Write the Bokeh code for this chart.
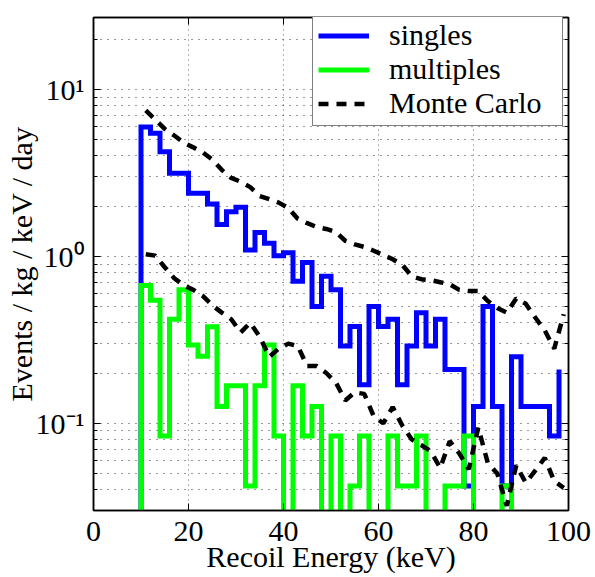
from bokeh.plotting import figure
from bokeh.models import (Range1d, LinearAxis, LogAxis, FixedTicker, Legend, LegendItem,
                          CustomJSTickFormatter, ColumnDataSource)
from bokeh.embed import file_html
from bokeh.resources import INLINE

# ---------------- data ----------------
bin_left = list(range(10, 100, 2))       # left edges of 2 keV bins
bin_center = list(range(11, 100, 2))     # bin centres (Monte Carlo curves)

singles = [5.96, 5.46, 4.24, 3.15, 3.15, 2.39, 2.39, 2.06, 1.55, 1.85,
           1.97, 1.09, 1.39, 1.20, 1.01, 1.05, 0.71, 0.92, 0.50, 0.76,
           0.63, 0.29, 0.38, 0.17, 0.50, 0.38, 0.42, 0.17, 0.29, 0.46,
           0.29, 0.42, 0.21, 0.21, 0.042, 0.126, 0.50, 0.126, 0.042, 0.25,
           0.126, 0.126, 0.126, 0.084, 0.21]

multiples = [0.67, 0.546, 0.084, 0.42, 0.63, 0.294, 0.252, 0.378, 0.126, 0.168,
             0.168, 0.042, 0.168, 0.294, 0.084, 0.0, 0.168, 0.084, 0.126, 0.0,
             0.084, 0.0, 0.042, 0.084, 0.0, 0.0, 0.084, 0.042, 0.042, 0.084,
             0.0, 0.0, 0.042, 0.042, 0.084, 0.0, 0.0, 0.0, 0.042, 0.0,
             0.0, 0.0, 0.0, 0.0, 0.0]

mc_singles = [7.5, 6.6, 5.8, 5.3, 4.8, 4.5, 4.2, 3.8, 3.3, 2.95,
              2.8, 2.6, 2.3, 2.2, 2.1, 1.95, 1.68, 1.58, 1.5, 1.46,
              1.40, 1.24, 1.18, 1.14, 1.08, 1.02, 0.96, 0.89, 0.76, 0.73,
              0.72, 0.70, 0.68, 0.63, 0.62, 0.62, 0.54, 0.49, 0.46, 0.56,
              0.52, 0.43, 0.36, 0.28, 0.45]

mc_multiples = [1.03, 1.01, 0.86, 0.74, 0.67, 0.63, 0.58, 0.51, 0.46, 0.42,
                0.35, 0.40, 0.33, 0.25, 0.28, 0.30, 0.29, 0.22, 0.22, 0.20,
                0.176, 0.137, 0.153, 0.15, 0.11, 0.10, 0.125, 0.097, 0.08, 0.074,
                0.068, 0.054, 0.078, 0.066, 0.053, 0.094, 0.058, 0.05, 0.032, 0.056,
                0.044, 0.052, 0.062, 0.045, 0.041]

series_names = ["singles", "multiples", "Monte Carlo"]
x_ticks = [0, 20, 40, 60, 80, 100]
y_ticks = [0.1, 1, 10]
y_tick_labels = ["10\u207b\u00b9", "10\u2070", "10\u00b9"]
x_label = "Recoil Energy (keV)"
y_label = "Events / kg / keV / day"

# ---------------- helpers ----------------
FLOOR = 1e-3  # empty bins drawn below the visible range


def step_source(vals):
    xs = [bin_left[0] - 2] + bin_left
    ys = [FLOOR] + [v if v > 0 else FLOOR for v in vals]
    return ColumnDataSource(dict(x=xs, y=ys))


FONT = "Liberation Serif"

p = figure(width=595, height=577, title=None,
           x_range=Range1d(0, 100), y_range=Range1d(0.03, 27),
           y_axis_type="log", output_backend="svg", toolbar_location=None,
           min_border_left=93, min_border_right=27,
           min_border_top=17, min_border_bottom=67)
p.background_fill_color = "white"
p.border_fill_color = "white"
p.outline_line_color = "black"
p.outline_line_width = 1.5

# ticks
xt = FixedTicker(ticks=x_ticks, minor_ticks=[])
minor_y = [m * 10.0 ** e for e in (-2, -1, 0, 1) for m in range(2, 10)]
yt = FixedTicker(ticks=y_ticks, minor_ticks=minor_y)
yfmt = CustomJSTickFormatter(args=dict(vals=y_ticks, labs=y_tick_labels), code="""
for (let i = 0; i < vals.length; i++) {
  if (Math.abs(Math.log10(tick) - Math.log10(vals[i])) < 1e-6) return labs[i];
}
return "";
""")
blank_fmt = CustomJSTickFormatter(code="return '';")

p.xaxis.ticker = xt
p.yaxis.ticker = yt
p.xgrid.ticker = xt
p.ygrid.ticker = yt
p.yaxis.formatter = yfmt

for ax in (p.xaxis[0], p.yaxis[0]):
    ax.axis_line_color = "black"
    ax.axis_line_width = 1.5
    ax.major_tick_line_color = "black"
    ax.minor_tick_line_color = "black"
    ax.major_tick_line_width = 1
    ax.minor_tick_line_width = 1
    ax.major_tick_in = 7
    ax.major_tick_out = 0
    ax.minor_tick_in = 4
    ax.minor_tick_out = 0
    ax.major_label_text_font = FONT
    ax.major_label_text_font_size = "30px"
    ax.major_label_text_color = "black"
    ax.axis_label_text_font = FONT
    ax.axis_label_text_font_size = "30px"
    ax.axis_label_text_font_style = "normal"
    ax.axis_label_text_color = "black"

p.xaxis.axis_label = x_label
p.yaxis.axis_label = y_label
p.xaxis.major_label_standoff = 11
p.xaxis.axis_label_standoff = -4
p.yaxis.major_label_standoff = 9
p.yaxis.axis_label_standoff = -5

# mirrored ticks (box)
top_ax = LinearAxis(ticker=xt, formatter=blank_fmt, major_label_text_font_size="2px",
                    major_label_standoff=0,
                    major_tick_in=7, major_tick_out=0, minor_tick_in=0, minor_tick_out=0,
                    axis_line_color="black", axis_line_width=1.5)
right_ax = LogAxis(ticker=yt, formatter=blank_fmt, major_label_text_font_size="2px",
                   major_label_standoff=0,
                   major_tick_in=7, major_tick_out=0, minor_tick_in=4, minor_tick_out=0,
                   axis_line_color="black", axis_line_width=1.5)
p.add_layout(top_ax, "above")
p.add_layout(right_ax, "right")

# grids
p.xgrid.grid_line_color = "#666666"
p.xgrid.grid_line_dash = "1 4"
p.xgrid.grid_line_width = 1
p.ygrid.grid_line_color = "black"
p.ygrid.grid_line_dash = "1 6"
p.ygrid.grid_line_alpha = 0.8
p.ygrid.minor_grid_line_color = "black"
p.ygrid.minor_grid_line_dash = "1 6"
p.ygrid.minor_grid_line_alpha = 0.8

# data
r_s = p.step("x", "y", source=step_source(singles), mode="after",
             line_color="#0000ff", line_width=5, line_join="miter")
r_m = p.step("x", "y", source=step_source(multiples), mode="after",
             line_color="#00ff00", line_width=5, line_join="miter")
r_mc1 = p.line(bin_center, mc_singles, line_color="black", line_width=4.5,
               line_dash="10 8")
r_mc2 = p.line(bin_center, mc_multiples, line_color="black", line_width=4.5,
               line_dash="10 8")

legend = Legend(items=[LegendItem(label=series_names[0], renderers=[r_s]),
                       LegendItem(label=series_names[1], renderers=[r_m]),
                       LegendItem(label=series_names[2], renderers=[r_mc1])],
                location=(219, 384), padding=5, spacing=0,
                glyph_width=51, glyph_height=25, label_height=25,
                label_standoff=20, label_width=168,
                label_text_font=FONT, label_text_font_size="30px",
                label_text_color="black",
                border_line_color="black", border_line_width=1.5,
                background_fill_color="white", background_fill_alpha=1.0)
p.add_layout(legend, "center")

open("out.html", "w").write(file_html(p, INLINE))
